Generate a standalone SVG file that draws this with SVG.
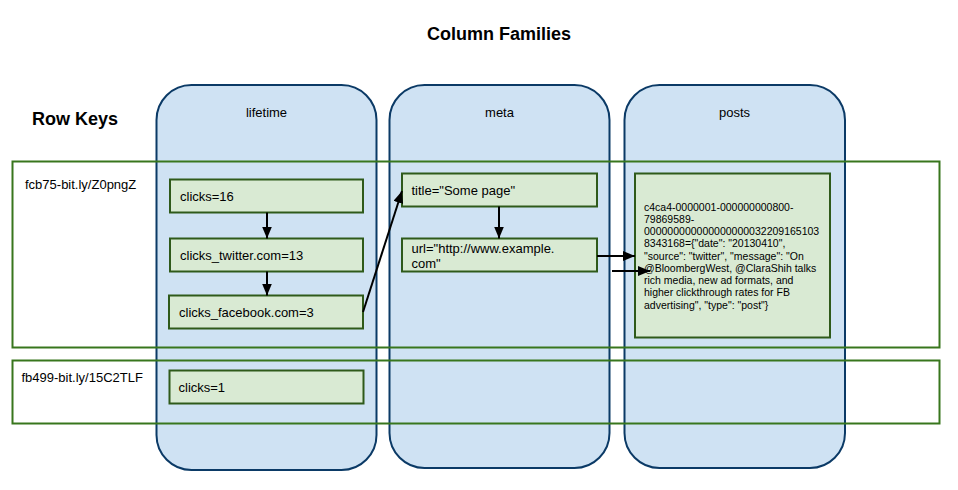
<svg xmlns="http://www.w3.org/2000/svg" width="958" height="490" viewBox="0 0 958 490">
<style>
text{font-family:"Liberation Sans",Arial,sans-serif;fill:#000}
.title{font-size:18px;font-weight:bold}
.lbl{font-size:13px}
.small{font-size:10.5px}
.col{fill:#cfe2f3;stroke:#0b3a66;stroke-width:2}
.row{fill:none;stroke:#38761d;stroke-width:2}
.box{fill:#d9ead3;stroke:#2f5a1a;stroke-width:2}
.conn line{stroke:#000;stroke-width:2;marker-end:url(#ah)}
</style>
<defs>
<marker id="ah" markerUnits="userSpaceOnUse" markerWidth="12" markerHeight="10" refX="12" refY="5" orient="auto">
<path d="M0,0 L12,5 L0,10 z" fill="#000"/>
</marker>
</defs>
<rect width="958" height="490" fill="#fff"/>
<text class="title" x="499" y="40" text-anchor="middle">Column Families</text>
<text class="title" x="32" y="125">Row Keys</text>
<g id="cf-lifetime"><rect class="col" x="156.5" y="85" width="220" height="385" rx="35" ry="35"/><text class="lbl" x="266.5" y="117" text-anchor="middle">lifetime</text></g>
<g id="cf-meta"><rect class="col" x="389.5" y="85" width="220" height="383" rx="35" ry="35"/><text class="lbl" x="499.5" y="117" text-anchor="middle">meta</text></g>
<g id="cf-posts"><rect class="col" x="624.5" y="85" width="220.5" height="383" rx="35" ry="35"/><text class="lbl" x="734.5" y="117" text-anchor="middle">posts</text></g>
<g id="row1"><rect class="row" x="12.5" y="161.5" width="927" height="186"/><text class="lbl" x="25" y="189">fcb75-bit.ly/Z0pngZ</text></g>
<g id="row2"><rect class="row" x="12.5" y="360.5" width="927" height="63"/><text class="lbl" x="21.5" y="382">fb499-bit.ly/15C2TLF</text></g>
<g id="clicks16"><rect class="box" x="170" y="179.5" width="193" height="33"/><text class="lbl" x="180" y="200.5">clicks=16</text></g>
<g id="clickstw"><rect class="box" x="170" y="238.5" width="193" height="33"/><text class="lbl" x="180" y="259.5">clicks_twitter.com=13</text></g>
<g id="clicksfb"><rect class="box" x="169" y="295.5" width="194" height="33"/><text class="lbl" x="179" y="316.5">clicks_facebook.com=3</text></g>
<g id="title"><rect class="box" x="402" y="173.5" width="195" height="33"/><text class="lbl" x="411.5" y="195">title="Some page"</text></g>
<g id="url"><rect class="box" x="402" y="238.5" width="195" height="33"/><text class="lbl" x="411.5" y="253">url="http://www.example.</text><text class="lbl" x="411.5" y="268">com"</text></g>
<g id="post"><rect class="box" x="635" y="173.5" width="195" height="164"/>
<text class="small" x="644" y="210.5">c4ca4-0000001-000000000800-</text>
<text class="small" x="644" y="222.8">79869589-</text>
<text class="small" x="644" y="235">000000000000000000032209165103</text>
<text class="small" x="644" y="247.3">8343168={"date": "20130410",</text>
<text class="small" x="644" y="259.5">"source": "twitter", "message": "On</text>
<text class="small" x="644" y="271.8">@BloombergWest, @ClaraShih talks</text>
<text class="small" x="644" y="284">rich media, new ad formats, and</text>
<text class="small" x="644" y="296.3">higher clickthrough rates for FB</text>
<text class="small" x="644" y="308.5">advertising", "type": "post"}</text>
</g>
<g id="clicks1"><rect class="box" x="169.5" y="370.5" width="194" height="33"/><text class="lbl" x="178.5" y="392">clicks=1</text></g>
<g class="conn" id="connectors">
<line x1="267" y1="212.5" x2="267" y2="238.5"/>
<line x1="267" y1="271.5" x2="267" y2="295.5"/>
<line x1="363" y1="312" x2="402" y2="191"/>
<line x1="499" y1="206.5" x2="499" y2="238.5"/>
<line x1="597" y1="256" x2="635" y2="256"/>
<line x1="612" y1="271" x2="650" y2="271"/>
</g>
</svg>
